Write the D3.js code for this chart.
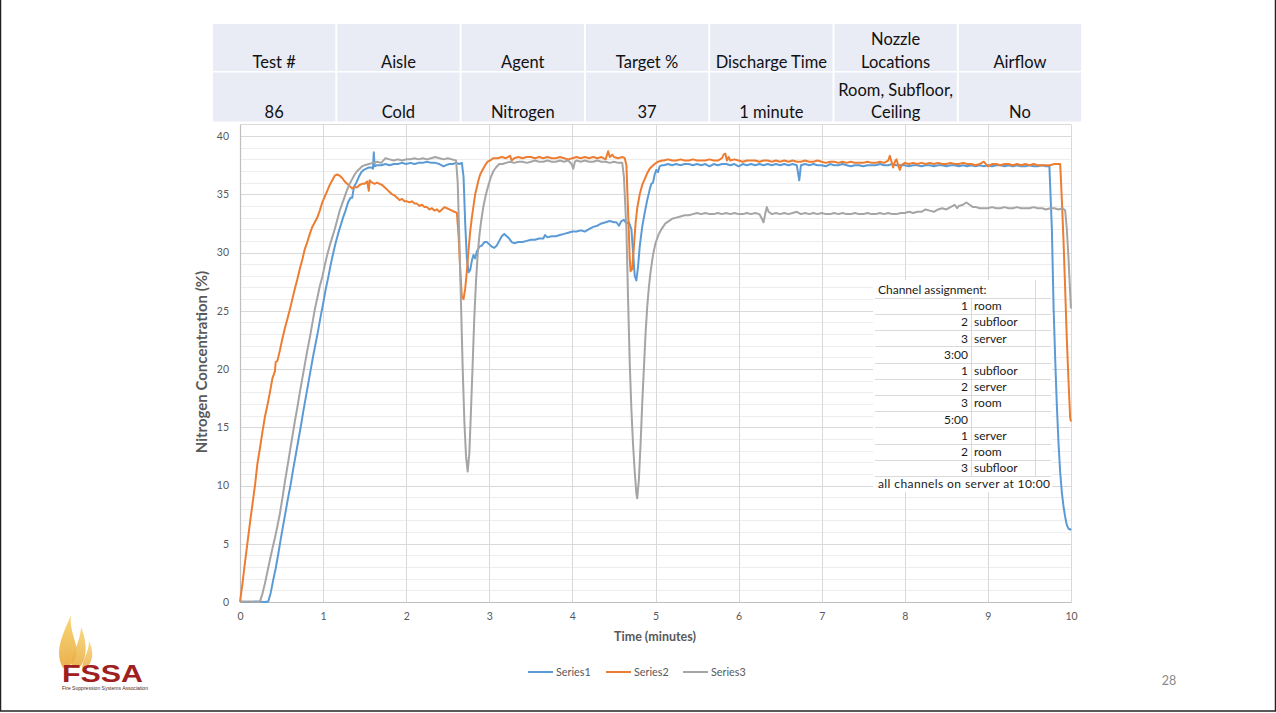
<!DOCTYPE html>
<html>
<head>
<meta charset="utf-8">
<script src="https://cdn.jsdelivr.net/npm/d3@7/dist/d3.min.js"></script>
<style>
  html, body { margin: 0; padding: 0; background: #fff; }
  svg { display: block; font-family: Lato, "Open Sans", sans-serif; }
</style>
</head>
<body>
<svg id="chart" width="1276" height="713"></svg>
<script>
// ---- Test summary table ----
const tableHeaders = [["Test #"], ["Aisle"], ["Agent"], ["Target %"], ["Discharge Time"], ["Nozzle", "Locations"], ["Airflow"]];
const tableValues  = [["86"], ["Cold"], ["Nitrogen"], ["37"], ["1 minute"], ["Room, Subfloor,", "Ceiling"], ["No"]];

// ---- Axes ----
const xTicks = [0, 1, 2, 3, 4, 5, 6, 7, 8, 9, 10];
const yTicks = [0, 5, 10, 15, 20, 25, 30, 35, 40];
const yMinorTicks = d3.range(0, 42, 1);
const xTitle = "Time (minutes)";
const yTitle = "Nitrogen Concentration (%)";

// ---- Series: [time (min), concentration (%)] ----
const series1 = [
  [0,0.05],[0.1,0],[0.2,0.05],[0.3,0],[0.34,0.05],[0.37,0.8],[0.40,1.9],[0.43,2.9],[0.46,4.1],[0.49,5.4],
  [0.52,6.6],[0.55,7.8],[0.58,9.0],[0.61,10.1],[0.64,11.4],[0.67,12.6],[0.70,13.8],[0.73,15.0],[0.76,16.3],
  [0.79,17.5],[0.82,18.7],[0.85,19.9],[0.88,21.1],[0.91,22.2],[0.94,23.3],[0.97,24.5],[1.00,25.6],[1.03,26.8],
  [1.06,27.8],[1.09,28.9],[1.12,29.9],[1.15,30.8],[1.18,31.6],[1.21,32.3],[1.24,33.0],[1.27,33.6],[1.30,34.3],
  [1.33,34.7],[1.35,34.7],[1.37,35.6],[1.40,36.0],[1.43,36.5],[1.46,36.9],[1.49,37.1],[1.52,37.2],[1.55,37.3],
  [1.58,37.3],[1.60,37.2],[1.61,38.6],[1.62,37.4],[1.65,37.5],[1.70,37.5],[1.75,37.6],[1.80,37.5],[1.85,37.6],
  [1.90,37.6],[1.95,37.7],[2.00,37.6],[2.05,37.7],[2.10,37.6],[2.15,37.7],[2.20,37.7],[2.25,37.8],[2.30,37.7],
  [2.35,37.7],[2.40,37.6],[2.45,37.4],[2.48,37.5],[2.52,37.6],[2.56,37.6],[2.60,37.7],[2.64,37.6],[2.67,37.7],
  [2.69,36.5],[2.71,32.5],[2.73,29.5],[2.75,28.3],[2.77,28.5],[2.79,29.3],[2.81,29.8],[2.83,29.5],[2.85,30.1],
  [2.88,30.5],[2.91,30.6],[2.94,30.9],[2.97,30.9],[3.00,30.7],[3.03,30.5],[3.06,30.4],[3.09,30.6],[3.12,31.0],
  [3.15,31.4],[3.18,31.6],[3.21,31.4],[3.24,31.2],[3.27,30.9],[3.30,30.8],[3.35,30.9],[3.40,30.9],[3.45,31.0],
  [3.50,31.1],[3.55,31.1],[3.60,31.2],[3.65,31.2],[3.67,31.5],[3.70,31.3],[3.75,31.4],[3.80,31.4],[3.85,31.5],
  [3.90,31.6],[3.95,31.7],[4.00,31.8],[4.05,31.8],[4.10,31.9],[4.15,31.8],[4.20,32.0],[4.25,32.2],[4.30,32.3],
  [4.35,32.5],[4.40,32.6],[4.45,32.7],[4.50,32.6],[4.53,32.6],[4.56,32.3],[4.59,32.7],[4.62,32.8],[4.65,32.5],
  [4.68,32.6],[4.71,32.0],[4.73,30.0],[4.75,28.0],[4.77,27.6],[4.79,28.8],[4.81,30.5],[4.84,32.2],[4.87,33.4],
  [4.90,34.5],[4.93,35.4],[4.95,35.9],[4.97,36.0],[4.99,36.7],[5.01,37.1],[5.03,36.9],[5.05,37.4],[5.08,37.5],
  [5.10,37.5],[5.15,37.6],[5.20,37.5],[5.25,37.6],[5.30,37.5],[5.35,37.6],[5.40,37.6],[5.45,37.5],[5.50,37.6],
  [5.55,37.5],[5.60,37.6],[5.65,37.4],[5.70,37.6],[5.75,37.5],[5.80,37.6],[5.85,37.6],[5.90,37.5],[5.95,37.6],
  [6.00,37.4],[6.05,37.6],[6.10,37.5],[6.15,37.6],[6.20,37.5],[6.25,37.6],[6.30,37.5],[6.35,37.6],[6.40,37.5],
  [6.45,37.6],[6.50,37.5],[6.55,37.6],[6.60,37.5],[6.65,37.6],[6.70,37.5],[6.73,36.2],[6.75,37.5],[6.80,37.6],
  [6.85,37.5],[6.90,37.6],[6.95,37.5],[7.00,37.5],[7.05,37.4],[7.10,37.6],[7.15,37.5],[7.20,37.5],[7.25,37.6],
  [7.30,37.5],[7.35,37.4],[7.40,37.5],[7.45,37.5],[7.50,37.4],[7.55,37.5],[7.60,37.5],[7.65,37.5],[7.70,37.6],
  [7.75,37.5],[7.80,37.5],[7.85,37.6],[7.90,37.5],[7.95,37.5],[8.00,37.5],[8.05,37.4],[8.10,37.5],[8.15,37.5],
  [8.20,37.4],[8.25,37.5],[8.30,37.5],[8.35,37.4],[8.40,37.5],[8.45,37.5],[8.50,37.4],[8.55,37.5],[8.60,37.5],
  [8.65,37.4],[8.70,37.5],[8.75,37.4],[8.80,37.5],[8.85,37.4],[8.90,37.5],[8.95,37.4],[9.00,37.5],[9.05,37.4],
  [9.10,37.5],[9.15,37.5],[9.20,37.4],[9.25,37.5],[9.30,37.4],[9.35,37.5],[9.40,37.4],[9.45,37.4],[9.50,37.5],
  [9.55,37.4],[9.60,37.4],[9.65,37.5],[9.70,37.4],[9.74,37.4],[9.77,32.0],[9.79,25.4],[9.81,20.8],[9.83,16.8],
  [9.85,13.6],[9.87,11.1],[9.89,9.4],[9.91,8.2],[9.93,7.3],[9.95,6.6],[9.97,6.3],[9.99,6.2],[10.0,6.3]
];

const series2 = [
  [0,0],[0.03,1.6],[0.06,3.4],[0.09,5.1],[0.12,6.8],[0.15,8.4],[0.18,10.0],[0.21,11.9],[0.24,13.2],[0.27,14.6],
  [0.30,15.9],[0.33,16.9],[0.36,18.0],[0.39,19.2],[0.42,19.8],[0.43,20.6],[0.45,20.7],[0.48,21.6],[0.51,22.6],
  [0.54,23.5],[0.57,24.3],[0.60,25.1],[0.63,26.0],[0.66,26.9],[0.69,27.7],[0.72,28.6],[0.75,29.4],[0.78,30.3],
  [0.81,30.9],[0.84,31.6],[0.87,32.2],[0.90,32.6],[0.93,33.0],[0.96,33.6],[0.99,34.3],[1.02,34.8],[1.05,35.3],
  [1.08,35.8],[1.11,36.2],[1.14,36.6],[1.17,36.7],[1.20,36.6],[1.23,36.4],[1.26,36.1],[1.29,35.9],[1.32,35.7],
  [1.35,35.5],[1.38,35.6],[1.41,35.6],[1.44,35.8],[1.47,35.9],[1.50,35.9],[1.53,36.1],[1.55,35.3],[1.56,36.2],
  [1.59,36.0],[1.62,35.9],[1.65,36.0],[1.68,35.9],[1.71,35.8],[1.74,35.6],[1.77,35.4],[1.80,35.2],[1.83,35.0],
  [1.86,34.9],[1.89,34.7],[1.92,34.5],[1.95,34.6],[1.98,34.4],[2.01,34.4],[2.04,34.3],[2.07,34.4],[2.10,34.2],
  [2.13,34.2],[2.16,34.0],[2.19,34.1],[2.22,33.9],[2.25,33.9],[2.28,33.7],[2.31,33.8],[2.34,33.6],[2.37,33.7],
  [2.40,33.5],[2.43,33.7],[2.46,33.9],[2.49,33.8],[2.52,33.7],[2.55,33.6],[2.58,33.5],[2.61,33.4],[2.63,31.5],
  [2.65,28.5],[2.67,26.2],[2.69,26.0],[2.71,26.9],[2.73,28.4],[2.75,30.2],[2.77,31.8],[2.79,33.0],[2.81,34.0],
  [2.83,35.0],[2.85,35.6],[2.87,36.2],[2.89,36.7],[2.92,37.1],[2.95,37.5],[2.98,37.8],[3.01,37.9],[3.05,38.1],
  [3.10,38.1],[3.15,38.2],[3.20,38.1],[3.25,38.3],[3.27,37.9],[3.30,38.1],[3.35,38.2],[3.40,38.1],[3.45,38.2],
  [3.50,38.2],[3.55,38.1],[3.60,38.2],[3.65,38.1],[3.70,38.2],[3.75,38.1],[3.80,38.1],[3.85,38.2],[3.90,38.1],
  [3.95,38.0],[4.00,38.1],[4.05,38.2],[4.10,38.1],[4.15,38.2],[4.20,38.1],[4.25,38.2],[4.30,38.1],[4.35,38.2],
  [4.40,38.0],[4.43,38.7],[4.45,38.2],[4.48,38.4],[4.50,38.2],[4.55,38.1],[4.60,38.2],[4.63,38.1],[4.65,37.5],
  [4.67,33.5],[4.69,29.5],[4.70,28.4],[4.72,28.6],[4.74,30.5],[4.76,32.5],[4.78,33.8],[4.81,35.0],[4.84,35.8],
  [4.87,36.3],[4.90,36.8],[4.93,37.2],[4.96,37.4],[4.99,37.6],[5.03,37.8],[5.08,37.9],[5.10,37.9],[5.15,38.0],
  [5.20,37.9],[5.25,37.9],[5.30,38.0],[5.35,37.9],[5.40,37.9],[5.45,38.0],[5.50,37.9],[5.55,37.9],[5.60,37.9],
  [5.65,38.0],[5.70,37.9],[5.75,37.9],[5.80,38.1],[5.82,38.4],[5.84,38.5],[5.86,37.9],[5.88,38.2],[5.90,37.9],
  [5.95,38.0],[6.00,37.9],[6.05,37.8],[6.10,37.9],[6.15,37.9],[6.20,37.9],[6.25,37.8],[6.30,37.9],[6.35,37.9],
  [6.40,37.8],[6.45,37.9],[6.50,37.8],[6.55,37.9],[6.60,37.8],[6.65,37.9],[6.70,37.8],[6.75,37.8],[6.80,37.9],
  [6.85,37.8],[6.90,37.8],[6.95,37.9],[7.00,37.8],[7.05,37.7],[7.10,37.8],[7.15,37.8],[7.20,37.7],[7.25,37.8],
  [7.30,37.7],[7.35,37.8],[7.40,37.7],[7.45,37.7],[7.50,37.7],[7.55,37.8],[7.60,37.7],[7.65,37.7],[7.70,37.8],
  [7.75,37.7],[7.80,37.9],[7.82,38.3],[7.84,37.8],[7.86,37.3],[7.88,37.8],[7.90,38.0],[7.92,37.5],[7.94,37.1],
  [7.96,37.5],[8.00,37.7],[8.05,37.6],[8.10,37.7],[8.15,37.6],[8.20,37.7],[8.25,37.6],[8.30,37.7],[8.35,37.6],
  [8.40,37.7],[8.45,37.6],[8.50,37.6],[8.55,37.7],[8.60,37.6],[8.65,37.6],[8.70,37.7],[8.75,37.6],[8.80,37.6],
  [8.85,37.5],[8.90,37.6],[8.95,37.8],[9.00,37.4],[9.05,37.6],[9.10,37.6],[9.15,37.5],[9.20,37.6],[9.25,37.6],
  [9.30,37.5],[9.35,37.6],[9.40,37.5],[9.45,37.6],[9.50,37.5],[9.55,37.6],[9.60,37.5],[9.65,37.5],[9.70,37.5],
  [9.75,37.5],[9.80,37.6],[9.85,37.6],[9.87,37.6],[9.89,34.5],[9.91,31.0],[9.93,26.8],[9.95,22.5],[9.97,19.0],
  [9.99,15.8],[10.0,15.5]
];

const series3 = [
  [0,0],[0.1,0.05],[0.2,0],[0.24,0.05],[0.27,0.7],[0.30,1.6],[0.33,2.6],[0.36,3.6],[0.39,4.6],[0.42,5.5],
  [0.45,6.5],[0.48,7.6],[0.51,8.9],[0.54,10.3],[0.57,11.6],[0.60,12.9],[0.63,14.2],[0.66,15.5],[0.69,16.7],
  [0.72,18.0],[0.75,19.2],[0.78,20.4],[0.81,21.6],[0.84,22.7],[0.87,23.9],[0.90,25.1],[0.93,26.1],[0.96,27.1],
  [0.99,27.9],[1.02,28.9],[1.05,29.8],[1.08,30.6],[1.11,31.3],[1.14,32.0],[1.17,32.8],[1.20,33.6],[1.23,34.2],
  [1.26,34.8],[1.29,35.4],[1.32,35.9],[1.35,36.3],[1.38,36.7],[1.41,37.0],[1.44,37.2],[1.47,37.4],[1.50,37.5],
  [1.55,37.6],[1.60,37.7],[1.65,37.8],[1.70,37.7],[1.75,38.1],[1.80,38.0],[1.85,37.9],[1.90,38.0],[1.95,37.9],
  [2.00,38.0],[2.05,38.0],[2.10,38.1],[2.15,38.0],[2.20,38.1],[2.25,38.0],[2.30,38.1],[2.35,38.2],[2.40,38.1],
  [2.45,38.0],[2.50,38.1],[2.55,38.0],[2.60,37.9],[2.62,36.0],[2.64,31.0],[2.66,25.5],[2.68,20.0],[2.70,15.5],
  [2.72,12.5],[2.74,11.2],[2.76,12.8],[2.78,16.5],[2.80,20.5],[2.82,24.5],[2.84,27.5],[2.86,29.8],[2.88,31.4],
  [2.90,32.6],[2.93,34.0],[2.96,35.0],[2.99,35.8],[3.02,36.5],[3.05,37.0],[3.08,37.3],[3.12,37.6],[3.16,37.6],
  [3.20,37.7],[3.25,37.8],[3.30,37.7],[3.35,37.8],[3.40,37.8],[3.45,37.7],[3.50,37.8],[3.55,37.9],[3.60,37.8],
  [3.65,37.8],[3.70,37.9],[3.75,37.8],[3.80,37.8],[3.85,37.9],[3.90,37.8],[3.95,37.9],[3.99,37.6],[4.01,37.2],
  [4.03,37.8],[4.05,37.9],[4.10,37.8],[4.15,37.9],[4.20,37.8],[4.25,37.8],[4.30,37.9],[4.35,37.8],[4.40,37.8],
  [4.45,37.7],[4.50,37.8],[4.55,37.7],[4.60,37.7],[4.62,36.5],[4.65,32.0],[4.67,26.0],[4.69,20.5],[4.71,16.5],
  [4.73,13.5],[4.75,11.2],[4.77,9.3],[4.78,8.9],[4.80,10.5],[4.82,13.5],[4.84,17.0],[4.86,20.0],[4.88,23.0],
  [4.90,25.3],[4.92,27.0],[4.94,28.3],[4.97,29.8],[5.00,30.8],[5.04,31.6],[5.08,32.1],[5.12,32.5],[5.16,32.7],
  [5.20,32.9],[5.25,33.0],[5.30,33.1],[5.35,33.2],[5.40,33.2],[5.45,33.3],[5.50,33.4],[5.55,33.3],[5.60,33.4],
  [5.65,33.3],[5.70,33.3],[5.75,33.4],[5.80,33.3],[5.85,33.4],[5.90,33.3],[5.95,33.4],[6.00,33.3],[6.05,33.3],
  [6.10,33.4],[6.15,33.3],[6.20,33.4],[6.25,33.3],[6.28,32.9],[6.30,32.6],[6.32,33.3],[6.34,33.9],[6.36,33.5],
  [6.40,33.3],[6.45,33.4],[6.50,33.3],[6.55,33.4],[6.60,33.3],[6.65,33.4],[6.70,33.5],[6.75,33.3],[6.80,33.4],
  [6.85,33.3],[6.90,33.4],[6.95,33.3],[7.00,33.4],[7.05,33.3],[7.10,33.3],[7.15,33.4],[7.20,33.3],[7.25,33.4],
  [7.30,33.3],[7.35,33.3],[7.40,33.4],[7.45,33.3],[7.50,33.3],[7.55,33.4],[7.60,33.3],[7.65,33.3],[7.70,33.4],
  [7.75,33.3],[7.80,33.4],[7.85,33.3],[7.90,33.3],[7.95,33.4],[8.00,33.4],[8.05,33.5],[8.10,33.4],[8.15,33.5],
  [8.20,33.5],[8.25,33.7],[8.30,33.6],[8.35,33.5],[8.40,33.7],[8.45,33.8],[8.50,33.7],[8.55,33.9],[8.60,34.1],
  [8.63,33.8],[8.65,34.0],[8.70,34.1],[8.74,34.3],[8.78,34.1],[8.82,33.9],[8.86,33.9],[8.90,33.8],[8.95,33.8],
  [9.00,33.8],[9.05,33.9],[9.10,33.8],[9.15,33.8],[9.20,33.9],[9.25,33.8],[9.30,33.8],[9.35,33.9],[9.40,33.8],
  [9.45,33.8],[9.50,33.8],[9.55,33.9],[9.60,33.8],[9.65,33.8],[9.70,33.7],[9.75,33.8],[9.80,33.8],[9.85,33.7],
  [9.90,33.8],[9.93,33.6],[9.95,32.0],[9.97,29.5],[9.99,26.5],[10.0,25.2]
];

const seriesNames = ["Series1", "Series2", "Series3"];
const seriesColors = ["#5b9bd5", "#ed7d31", "#a5a5a5"];

// ---- Channel assignment note ----
const noteTitle = "Channel assignment:";
const noteNums = ["1", "2", "3", "3:00", "1", "2", "3", "5:00", "1", "2", "3"];
const noteLocs = ["room", "subfloor", "server", "", "subfloor", "server", "room", "", "server", "room", "subfloor"];
const noteFooter = "all channels on server at 10:00";

const pageNumber = "28";

// ================= drawing =================
const svg = d3.select("#chart");

// slide frame
svg.append("rect").attr("x", 0.5).attr("y", -2).attr("width", 1275).attr("height", 713)
  .attr("fill", "none").attr("stroke", "#222").attr("stroke-width", 1.5);

const plot = { left: 240, right: 1071, top: 124.4, bottom: 602 };
const x = d3.scaleLinear().domain([0, 10]).range([plot.left, plot.right]);
const y = d3.scaleLinear().domain([0, 41]).range([plot.bottom, plot.top]);

// gridlines
const grid = svg.append("g");
grid.selectAll("line.minor").data(yMinorTicks.filter(v => v % 5 !== 0)).join("line")
  .attr("x1", plot.left).attr("x2", plot.right)
  .attr("y1", d => Math.round(y(d)) + 0.5).attr("y2", d => Math.round(y(d)) + 0.5)
  .attr("stroke", "#ededed").attr("stroke-width", 1);
grid.selectAll("line.major").data(yTicks.concat([41])).join("line")
  .attr("x1", plot.left).attr("x2", plot.right)
  .attr("y1", d => Math.round(y(d)) + 0.5).attr("y2", d => Math.round(y(d)) + 0.5)
  .attr("stroke", "#d9d9d9").attr("stroke-width", 1.2);
grid.selectAll("line.vert").data(xTicks).join("line")
  .attr("y1", plot.top).attr("y2", plot.bottom)
  .attr("x1", d => Math.round(x(d)) + 0.5).attr("x2", d => Math.round(x(d)) + 0.5)
  .attr("stroke", "#d9d9d9").attr("stroke-width", 1);

// axes
const xAxis = svg.append("g").attr("transform", `translate(0,${plot.bottom})`)
  .call(d3.axisBottom(x).tickValues(xTicks).tickSize(0).tickPadding(11).tickFormat(d3.format("d")));
const yAxis = svg.append("g").attr("transform", `translate(${plot.left},0)`)
  .call(d3.axisLeft(y).tickValues(yTicks).tickSize(0).tickPadding(11).tickFormat(d3.format("d")));
[xAxis, yAxis].forEach(a => {
  a.select(".domain").attr("stroke", "#bfbfbf").attr("stroke-width", 1.2);
  a.selectAll("text").attr("fill", "#595959").attr("font-size", 10.5)
    .attr("font-family", "Lato, sans-serif");
});

svg.append("text").attr("x", 655).attr("y", 641).attr("text-anchor", "middle")
  .attr("font-size", 12.5).attr("font-weight", "bold").attr("fill", "#595959").text(xTitle);
svg.append("text").attr("transform", "translate(207,362) rotate(-90)").attr("text-anchor", "middle")
  .attr("font-size", 15).attr("font-weight", "bold").attr("fill", "#595959").text(yTitle);

// series lines
const line = d3.line().x(d => x(d[0])).y(d => y(d[1]));
[series1, series2, series3].forEach((s, i) => {
  svg.append("path").datum(s).attr("d", line)
    .attr("fill", "none").attr("stroke", seriesColors[i])
    .attr("stroke-width", 2).attr("stroke-linejoin", "round");
});

// channel assignment note (sheet cells over the plot)
const note = svg.append("g");
const nx0 = 873, nx1 = 1051, ny0 = 280, rowH = 16.2, ny1 = 492;
const firstCenter = 289.7;
note.append("rect").attr("x", nx0).attr("y", ny0).attr("width", nx1 - nx0 + 1).attr("height", ny1 - ny0)
  .attr("fill", "#fff");
const nRows = noteNums.length + 2;
for (let i = 0; i < nRows - 1; i++) {
  const yy = Math.round(firstCenter + rowH * (i + 0.5)) + 0.5;
  note.append("line").attr("x1", nx0 + 2).attr("x2", nx1).attr("y1", yy).attr("y2", yy)
    .attr("stroke", "#dadada").attr("stroke-width", 1);
}
note.append("line").attr("x1", 971.5).attr("x2", 971.5)
  .attr("y1", firstCenter + rowH * 0.5).attr("y2", firstCenter + rowH * (nRows - 1.5))
  .attr("stroke", "#dadada");
note.append("line").attr("x1", 1035.5).attr("x2", 1035.5)
  .attr("y1", ny0).attr("y2", firstCenter + rowH * (nRows - 1.5))
  .attr("stroke", "#dadada");
const noteText = note.append("g").attr("font-size", 12).attr("fill", "#1a1a1a");
noteText.append("text").attr("x", 878).attr("y", firstCenter).attr("dy", "0.35em").text(noteTitle);
noteText.selectAll("text.num").data(noteNums).join("text").attr("class", "num")
  .attr("x", 968).attr("y", (d, i) => firstCenter + rowH * (i + 1)).attr("dy", "0.35em")
  .attr("text-anchor", "end").text(d => d);
noteText.selectAll("text.loc").data(noteLocs).join("text").attr("class", "loc")
  .attr("x", 974).attr("y", (d, i) => firstCenter + rowH * (i + 1)).attr("dy", "0.35em")
  .text(d => d);
svg.append("clipPath").attr("id", "noteClip").append("rect")
  .attr("x", nx0).attr("y", ny0).attr("width", nx1 - nx0 - 1).attr("height", ny1 - ny0);
noteText.append("text").attr("clip-path", "url(#noteClip)").attr("letter-spacing", 0.4)
  .attr("x", 878).attr("y", firstCenter + rowH * (nRows - 1)).attr("dy", "0.35em").text(noteFooter);

// summary table above the plot
const table = svg.append("g");
const tx0 = 212, colW = 124.3;
const rows = [
  { top: 24, bottom: 71, data: tableHeaders },
  { top: 72.5, bottom: 121.5, data: tableValues }
];
rows.forEach(r => {
  r.data.forEach((cell, c) => {
    table.append("rect").attr("x", tx0 + c * colW + 1).attr("y", r.top)
      .attr("width", colW - 2).attr("height", r.bottom - r.top).attr("fill", "#e9ebf5");
    cell.forEach((t, k) => {
      table.append("text").attr("x", tx0 + c * colW + colW / 2)
        .attr("y", r.bottom - 3.5 - (cell.length - 1 - k) * 22.5)
        .attr("text-anchor", "middle").attr("font-size", 16.5).attr("fill", "#111").text(t);
    });
  });
});

// legend
const legend = svg.append("g");
const legendX = [528, 606, 683];
seriesNames.forEach((n, i) => {
  legend.append("line").attr("x1", legendX[i]).attr("x2", legendX[i] + 25)
    .attr("y1", 672).attr("y2", 672).attr("stroke", seriesColors[i]).attr("stroke-width", 2);
  legend.append("text").attr("x", legendX[i] + 28).attr("y", 672).attr("dy", "0.35em")
    .attr("font-size", 10.8).attr("fill", "#595959").text(n);
});

// page number
svg.append("text").attr("x", 1169).attr("y", 681).attr("dy", "0.35em").attr("text-anchor", "middle")
  .attr("font-size", 12.5).attr("fill", "#8a8a8a").text(pageNumber);

// association logo
const logo = svg.append("g");
const grad = svg.append("defs").append("linearGradient").attr("id", "flame")
  .attr("x1", 0).attr("y1", 1).attr("x2", 0).attr("y2", 0);
grad.append("stop").attr("offset", "0%").attr("stop-color", "#e9a83a");
grad.append("stop").attr("offset", "100%").attr("stop-color", "#f6d36a");
logo.append("path").attr("fill", "url(#flame)").attr("opacity", 0.9)
  .attr("d", "M63,668 C54,652 62,636 71,615 C69,633 79,643 76,656 C74,663 69,667 63,668 Z");
logo.append("path").attr("fill", "url(#flame)").attr("opacity", 0.85)
  .attr("d", "M72,668 C70,654 80,645 81,627 C88,644 87,660 79,668 Z");
logo.append("path").attr("fill", "url(#flame)").attr("opacity", 0.8)
  .attr("d", "M82,668 C83,658 89,652 89,641 C95,653 92,664 86,668 Z");
logo.append("text").attr("x", 62).attr("y", 682).attr("font-family", "'Liberation Sans', Arial, sans-serif")
  .attr("font-weight", "bold").attr("font-size", 23).attr("fill", "#9e2020")
  .attr("textLength", 81).attr("lengthAdjust", "spacingAndGlyphs").text("FSSA");
logo.append("text").attr("x", 62).attr("y", 690).attr("font-family", "'Liberation Sans Narrow', 'Liberation Sans', sans-serif")
  .attr("font-size", 5).attr("fill", "#4a2a20")
  .attr("textLength", 86).attr("lengthAdjust", "spacingAndGlyphs").text("Fire Suppression Systems Association");
</script>
</body>
</html>
